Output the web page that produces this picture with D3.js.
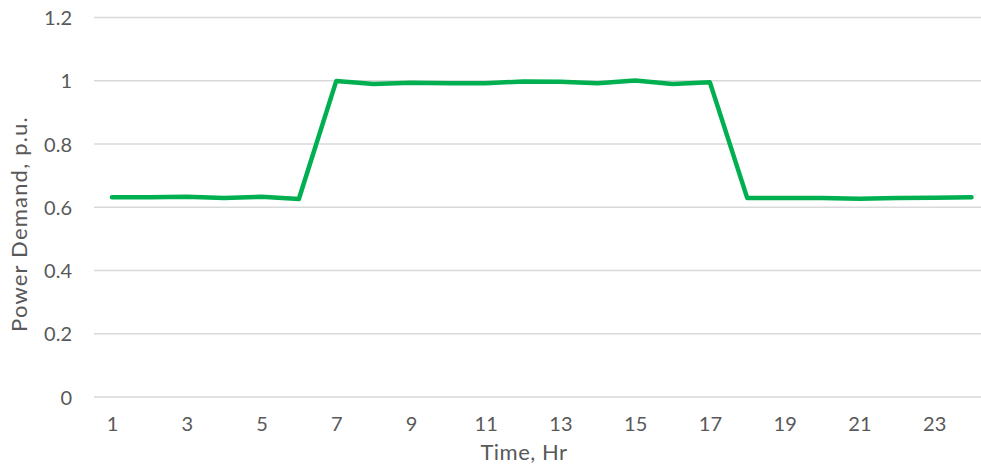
<!DOCTYPE html>
<html><head><meta charset="utf-8">
<script src="https://cdn.jsdelivr.net/npm/d3@7"></script>
<style>body{margin:0;background:#fff;} text{font-family:Lato,"Open Sans",sans-serif;fill:#595959;}</style>
</head><body><svg id="c" width="981" height="467"></svg>
<script>
const hours = d3.range(1, 25);
const demand = [0.632,0.632,0.633,0.629,0.633,0.626,0.999,0.990,0.994,0.992,0.992,0.998,0.997,0.992,1.001,0.990,0.995,0.629,0.629,0.629,0.627,0.629,0.630,0.632];
const yTicks = [0,0.2,0.4,0.6,0.8,1,1.2];
const xTicks = [1,3,5,7,9,11,13,15,17,19,21,23];

const svg = d3.select("#c");
const x = d3.scaleLinear().domain([1,24]).range([112,971.5]);
const y = d3.scaleLinear().domain([0,1.2]).range([397,17.5]);

// gridlines
svg.append("g").selectAll("line").data(yTicks).join("line")
  .attr("x1",94).attr("x2",981)
  .attr("y1",d=>y(d)).attr("y2",d=>y(d))
  .attr("stroke","#d9d9d9").attr("stroke-width",1.3);

// y axis labels
const yAxis = d3.axisLeft(y).tickValues(yTicks).tickSize(0).tickPadding(0).tickFormat(d=>d3.format("")(d));
svg.append("g").attr("transform","translate(72,0)").call(yAxis)
  .call(g=>g.select(".domain").remove())
  .selectAll("text").style("font-size","20px").attr("fill","#595959").attr("dy","0.36em");

// x axis labels
const xAxis = d3.axisBottom(x).tickValues(xTicks).tickSize(0).tickPadding(0);
svg.append("g").attr("transform","translate(0,417)").call(xAxis)
  .call(g=>g.select(".domain").remove())
  .selectAll("text").style("font-size","20px").attr("fill","#595959");

// line
const line = d3.line().x((d,i)=>x(hours[i])).y(d=>y(d));
svg.append("path").datum(demand).attr("d",line)
  .attr("fill","none").attr("stroke","#00B050").attr("stroke-width",4.5)
  .attr("stroke-linejoin","round").attr("stroke-linecap","round");

// titles
svg.append("text").attr("x",524).attr("y",460).attr("text-anchor","middle")
  .style("font-size","22px").style("letter-spacing","0.5px").text("Time, Hr");
svg.append("text").attr("transform","translate(27,224) rotate(-90)").attr("text-anchor","middle")
  .style("font-size","22px").style("letter-spacing","1.2px").text("Power Demand, p.u.");
</script></body></html>
